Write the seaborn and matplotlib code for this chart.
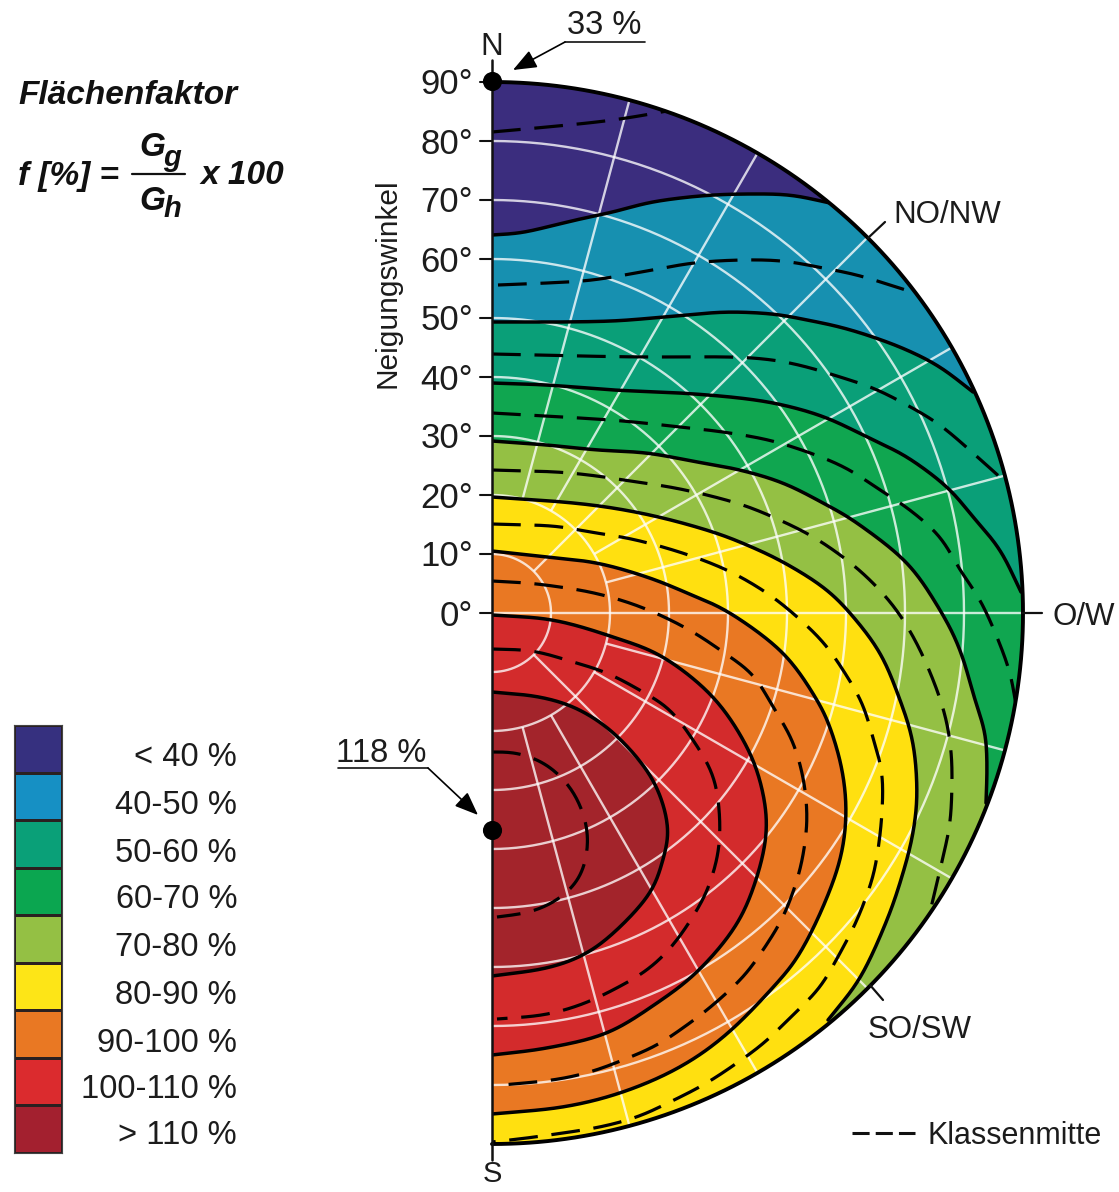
import numpy as np
import pandas as pd
import matplotlib
matplotlib.use("Agg")
import matplotlib.pyplot as plt
from matplotlib.colors import ListedColormap
from matplotlib.patches import Polygon
import seaborn as sns

# ---- values ----------------------------------------------------------------
CLASS_LABELS = ["< 40 %", "40-50 %", "50-60 %", "60-70 %", "70-80 %",
                "80-90 %", "90-100 %", "100-110 %", "> 110 %"]
CLASS_COLORS = ["#3b2d7e", "#1790b0", "#0a9f78", "#10a650", "#94c044",
                "#ffe010", "#e97823", "#d32b2c", "#a3242b"]
LEGEND_COLORS = ["#36307f", "#1690c4", "#0aa078", "#0ba650", "#94c044",
                 "#fde517", "#e97823", "#db2b2e", "#a3202f"]
TILT_TICKS = [0, 10, 20, 30, 40, 50, 60, 70, 80, 90]
GRID_TILTS = [10, 20, 30, 40, 50, 60, 70, 80]
GRID_AZ = [15, 30, 45, 60, 75, 90, 105, 120, 135, 150, 165]
GRID_AZ_START = [20, 20, 10, 20, 20, 0, 20, 20, 10, 20, 20]

# Class boundaries and class centres: positions read on the reference (px)
B1 = [(492,235),(520,233),(547,227),(580,219),(613,212),(647,203),(680,198),(713,195),(747,194),(790,195),(830,203)]
B2 = [(492,322),(560,322),(613,321),(653,318),(687,315),(727,312),(773,314),(807,320),(840,327),(873,337),(907,350),(940,367),(973,392)]
B3 = [(492,383),(547,385),(613,390),(680,393),(740,398),(783,405),(827,418),(873,440),(907,457),(947,487),(973,517),(1000,550),(1021,592)]
B4 = [(492,441),(547,445),(597,450),(647,453),(697,462),(740,470),(783,483),(823,503),(857,523),(907,563),(940,610),(960,650),(975,700),(985,733),(987,767),(986,803)]
B5 = [(492,497),(563,502),(613,508),(663,518),(713,532),(747,545),(783,562),(823,587),(850,613),(880,653),(900,700),(913,743),(917,793),(913,833),(903,873),(887,920),(860,978),(828,1020)]
B6 = [(492,551),(547,557),(597,563),(647,577),(687,593),(730,613),(783,653),(817,700),(832,733),(843,775),(846,817),(840,860),(823,907),(800,953),(777,983),(728,1033),(680,1067),(623,1092),(563,1107),(492,1114)]
B7 = [(492,615),(553,620),(613,637),(663,657),(713,697),(747,747),(763,793),(766,837),(753,889),(733,930),(697,972),(657,1003),(607,1033),(547,1048),(492,1055)]
B8 = [(492,692),(540,697),(580,710),(618,737),(653,780),(668,827),(662,863),(650,893),(620,927),(587,953),(547,968),(492,976)]
BOUNDARIES = [B1, B2, B3, B4, B5, B6, B7, B8]

D0 = [(492,132),(547,127),(597,122),(633,117),(667,111)]
D1 = [(498,285),(547,283),(593,280),(647,271),(693,263),(740,260),(783,261),(823,268),(857,275),(890,285),(915,293)]
D2 = [(492,354),(580,356),(647,357),(730,357),(773,360),(807,367),(840,377),(873,388),(907,405),(940,425),(973,453),(1002,479)]
D3 = [(492,413),(563,417),(623,421),(680,427),(730,433),(780,443),(840,465),(880,490),(910,510),(940,537),(960,570),(980,600),(997,637),(1010,673),(1016,705)]
D4 = [(492,470),(557,472),(597,476),(630,481),(670,487),(707,495),(743,505),(773,517),(810,535),(843,557),(870,580),(895,608),(915,640),(932,677),(945,715),(951,750),(952,783),(950,823),(943,857),(930,912)]
D5 = [(492,524),(553,526),(590,532),(627,538),(663,547),(700,559),(733,573),(767,593),(795,615),(823,642),(843,670),(862,703),(873,738),(882,773),(882,813),(878,850),(872,880),(857,920),(840,953),(820,987),(793,1015),(765,1042),(737,1063),(705,1084),(670,1102),(637,1117),(600,1127),(563,1133),(527,1138),(492,1142)]
D6 = [(492,581),(527,583),(553,586),(590,592),(627,602),(660,615),(693,632),(723,652),(753,675),(773,707),(792,740),(803,777),(807,813),(805,843),(798,877),(783,917),(763,950),(743,977),(713,1005),(687,1025),(657,1045),(623,1060),(590,1072),(553,1080),(502,1085)]
D7 = [(492,649),(533,651),(573,662),(607,673),(643,692),(670,710),(693,740),(712,773),(719,807),(719,847),(710,883),(697,910),(673,945),(647,970),(613,990),(580,1005),(543,1015),(497,1019)]
D8 = [(492,752),(517,753),(547,765),(572,790),(586,823),(587,853),(578,880),(557,900),(530,912),(497,917)]
CENTRES = [D0, D1, D2, D3, D4, D5, D6, D7, D8]

# ---- ruler of the reference: tilt 0 at (492, 613), 5.9 px per degree --------
W, H = 1119, 1192
CX, CY, PX = 492.0, 613.0, 5.9
RMAX = 90.0

def X(p):
    return (np.asarray(p, float) - CX) / PX

def Y(p):
    return (CY - np.asarray(p, float)) / PX

def smooth(points, n=10, sigma_deg=1.6):
    """Drawn curve through the read points: Catmull-Rom, then a light fairing."""
    p = np.column_stack([X([q[0] for q in points]), Y([q[1] for q in points])])
    p = np.vstack([2 * p[0] - p[1], p, 2 * p[-1] - p[-2]])
    out = []
    for i in range(1, len(p) - 2):
        t = np.linspace(0, 1, n, endpoint=False)[:, None]
        a, b, c, d = p[i - 1], p[i], p[i + 1], p[i + 2]
        out.append(0.5 * (2 * b + (c - a) * t + (2 * a - 5 * b + 4 * c - d) * t ** 2
                          + (3 * b - a - 3 * c + d) * t ** 3))
    out.append(p[-2][None, :])
    c = np.vstack(out)
    s = np.r_[0, np.cumsum(np.hypot(*np.diff(c, axis=0).T))]
    step = 0.3
    u = np.arange(0, s[-1], step)
    u = np.r_[u, s[-1]]
    r = np.column_stack([np.interp(u, s, c[:, 0]), np.interp(u, s, c[:, 1])])
    m = int(3 * sigma_deg / step)
    k = np.exp(-0.5 * (np.arange(-m, m + 1) * step / sigma_deg) ** 2)
    k /= k.sum()
    m2 = min(m, len(r) - 1)
    head = 2 * r[0] - r[1:m2 + 1][::-1]
    tail = 2 * r[-1] - r[-m2 - 1:-1][::-1]
    e = np.vstack([np.repeat(head[:1], m - m2, axis=0), head, r, tail, np.repeat(tail[-1:], m - m2, axis=0)])
    f = np.column_stack([np.convolve(e[:, i], k, mode="valid") for i in (0, 1)])
    f[0], f[-1] = r[0], r[-1]
    return f

def frame(curves):
    rows = []
    for i, c in enumerate(curves):
        s = smooth(c)
        rows.append(pd.DataFrame({"x": s[:, 0], "y": s[:, 1], "curve": i}))
    return pd.concat(rows, ignore_index=True)

def polar(t, az):
    a = np.radians(az)
    return t * np.sin(a), t * np.cos(a)

sns.set_theme(style="white")
plt.rcParams["font.family"] = ["Liberation Sans", "DejaVu Sans"]
INK = "#1c1c1c"

fig = plt.figure(figsize=(W / 100, H / 100), dpi=100)
ax = fig.add_axes([0, 0, 1, 1])
ax.set_xlim(X(0), X(W))
ax.set_ylim(Y(H), Y(0))
ax.axis("off")

# half disc and class fills
az = np.linspace(0, 180, 361)
hx, hy = polar(RMAX, az)
disc = Polygon(np.column_stack([hx, hy]), closed=True, transform=ax.transData,
               fc=CLASS_COLORS[0], ec="none", zorder=1)
ax.add_patch(disc)
for color, b in zip(CLASS_COLORS[1:], BOUNDARIES):
    s = smooth(b)
    end_az = np.degrees(np.arctan2(s[-1, 0], s[-1, 1]))
    if s[-1, 0] > 1:
        ax_arc = np.linspace(end_az, 180, 120)
        ox, oy = polar(RMAX + 2, ax_arc)
        s = np.vstack([s, np.column_stack([ox, oy])])
    art = ax.fill(s[:, 0], s[:, 1], color=color, lw=0, zorder=2)[0]
    art.set_clip_path(disc)

# white grid
grid_kw = dict(color="white", alpha=0.78, lw=1.7, zorder=3, solid_capstyle="butt")
for t in GRID_TILTS:
    gx, gy = polar(t, az)
    ax.plot(gx, gy, **grid_kw)
for a, t0 in zip(GRID_AZ, GRID_AZ_START):
    gx, gy = polar(np.array([t0, RMAX]), a)
    ax.plot(gx, gy, **grid_kw)

# class boundaries and centres
n0 = len(ax.lines)
sns.lineplot(data=frame(BOUNDARIES), x="x", y="y", units="curve", estimator=None,
             sort=False, color="black", lw=2.5, ax=ax, legend=False, zorder=4)
sns.lineplot(data=frame(CENTRES), x="x", y="y", units="curve", estimator=None,
             sort=False, color="black", lw=2.3, linestyle=(0, (9.0, 4.3)),
             ax=ax, legend=False, zorder=4)
for ln in ax.lines[n0:]:
    ln.set_clip_path(disc)
ax.set_xlabel("")
ax.set_ylabel("")
ax.set_xlim(X(0), X(W))
ax.set_ylim(Y(H), Y(0))
ax.axis("off")

# outline, axis and ticks
ax.plot(hx, hy, color="black", lw=2.8, zorder=5)
ax.plot([0, 0], [Y(60), Y(1160)], color="#111111", lw=1.8, zorder=5)
TICK_LABEL_DROP = 3.0 / PX
for t in TILT_TICKS:
    ax.plot([X(480), 0], [t, t], color="#111111", lw=1.5, zorder=5)
    ax.text(X(473), t - TICK_LABEL_DROP, f"{t}°", ha="right", va="center", fontsize=25, color=INK)

for p, q in [((1022, 613), (1042, 613)), ((868, 238), (885, 222)), ((870, 985), (883, 1000))]:
    ax.plot([X(p[0]), X(q[0])], [Y(p[1]), Y(q[1])], color="#111111", lw=1.6, zorder=5)

ax.text(X(387), Y(283), "Neigungswinkel", rotation=90, ha="center", va="center", fontsize=21.5, color=INK)
ax.text(X(492), Y(47), "N", ha="center", va="center", fontsize=22.5, color=INK)
ax.text(X(492), Y(1174), "S", ha="center", va="center", fontsize=21, color=INK)
ax.text(X(1052), Y(617), "O/W", ha="left", va="center", fontsize=22.5, color=INK)
ax.text(X(893), Y(215), "NO/NW", ha="left", va="center", fontsize=22.5, color=INK)
ax.text(X(868), Y(1030), "SO/SW", ha="left", va="center", fontsize=22.5, color=INK)
ax.text(X(928), Y(1136), "Klassenmitte", ha="left", va="center", fontsize=22, color=INK)
ax.plot([X(852), X(915)], [Y(1133), Y(1133)], color="#111111", lw=2.2, linestyle=(0, (5.6, 2.0)))

# extreme values
ax.scatter([0, 0], [Y(81), Y(830)], s=190, color="black", zorder=6, lw=0)
arrow = dict(arrowstyle="-|>,head_length=1.2,head_width=0.48", color="black", lw=1.2,
             shrinkA=0, shrinkB=0)
ax.text(X(604), Y(26), "33 %", ha="center", va="center", fontsize=23.5, color=INK)
ax.plot([X(565), X(645)], [Y(42), Y(42)], color="#111111", lw=1.2)
ax.annotate("", xy=(X(513), Y(70)), xytext=(X(565), Y(42)), arrowprops=arrow, zorder=6)
ax.text(X(381), Y(754), "118 %", ha="center", va="center", fontsize=23.5, color=INK)
ax.plot([X(338), X(428)], [Y(768), Y(768)], color="#111111", lw=1.2)
ax.annotate("", xy=(X(478), Y(815)), xytext=(X(428), Y(768)), arrowprops=arrow, zorder=6)

# formula
bi = dict(fontweight="bold", fontstyle="italic", color="#111111", va="center", fontsize=24)
ax.text(X(18), Y(95), "Flächenfaktor", ha="left", **bi)
ax.text(X(18), Y(176), "f [%] =", ha="left", **bi)
ax.text(X(139), Y(148), "G", ha="left", **bi)
ax.text(X(163), Y(158), "g", ha="left", **{**bi, "fontsize": 21})
ax.plot([X(132), X(185)], [Y(174), Y(174)], color="#111111", lw=1.6)
ax.text(X(139), Y(202), "G", ha="left", **bi)
ax.text(X(163), Y(209), "h", ha="left", **{**bi, "fontsize": 21})
ax.text(X(200), Y(176), "x 100", ha="left", **bi)

# legend bar
lax = fig.add_axes([14 / W, 1 - 1153 / H, 48 / W, 428 / H])
sns.heatmap(np.arange(len(LEGEND_COLORS)).reshape(-1, 1), ax=lax,
            cmap=ListedColormap(LEGEND_COLORS), cbar=False, xticklabels=False,
            yticklabels=False, linewidths=1.0, linecolor="#2a2020")
lax.set_frame_on(True)
for s in lax.spines.values():
    s.set_visible(True)
    s.set_color("#444444")
    s.set_linewidth(0.8)
LABEL_Y = [758, 806, 854, 900, 947, 995, 1043, 1089, 1135]
for lab, py in zip(CLASS_LABELS, LABEL_Y):
    ax.text(X(237), Y(py), lab, ha="right", va="center", fontsize=23.5, color=INK)

fig.savefig("out.png", dpi=100)
